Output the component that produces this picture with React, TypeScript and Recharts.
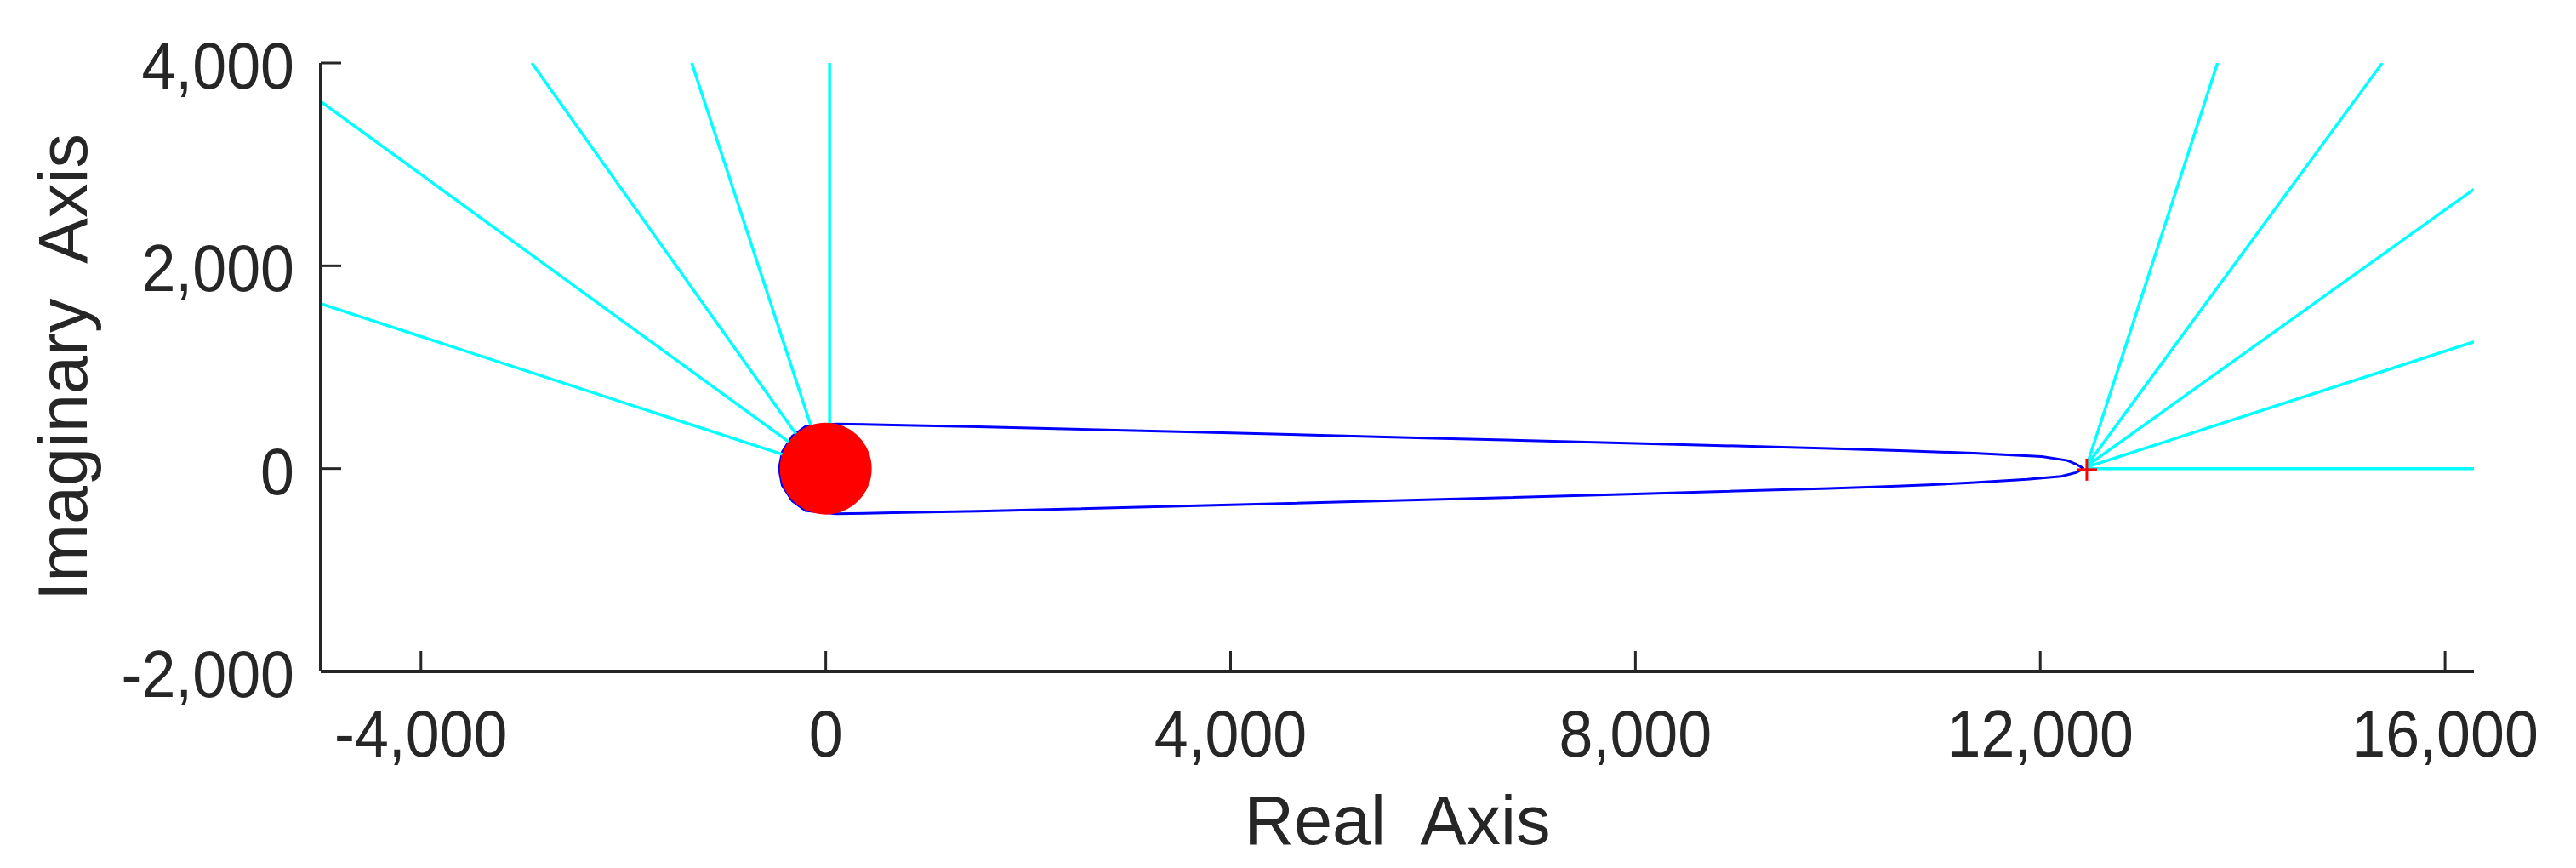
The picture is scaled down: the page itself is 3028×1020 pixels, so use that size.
import React from "react";
import { ComposedChart, Line, Scatter, XAxis, YAxis } from "recharts";

// axis setup
const xTicks = [-4000, 0, 4000, 8000, 12000, 16000];
const yTicks = [-2000, 0, 2000, 4000];
const xDomain = [-4990, 16285];
const yDomain = [-2000, 4000];

// blue branch above the real axis, left to right
const blueUpper = [
  [100, 440], [668, 430], [1500, 412], [4000, 352], [6000, 300], [8000, 249],
  [9914, 199], [10670, 176], [11343, 152], [12016, 118], [12268, 80], [12352, 45], [12430, 0],
];
// blue branch below the real axis, left to right
const blueLower = [
  [100, -445], [668, -436], [1500, -420], [4000, -358], [6000, -305], [8000, -250],
  [9914, -196], [10474, -176], [10895, -160], [11315, -140], [11870, -106], [12207, -76], [12352, -40], [12430, 0],
];
// blue part going round the pole cluster on the left
const blueArc = [
  [100, 440], [-200, 415], [-330, 320], [-430, 165], [-462, 0],
  [-430, -165], [-330, -320], [-200, -415], [100, -445],
];

// cyan branches to infinity
const leftRays = [
  [[-410, 134], [-4990, 1625]],
  [[-340, 246], [-4990, 3620]],
  [[-256, 288], [-2904, 4000]],
  [[-116, 330], [-1324, 4000]],
  [[38, 344], [38, 4000]],
];
const rightRays = [
  [[12460, 30], [13752, 4000]],
  [[12460, 30], [15380, 4000]],
  [[12460, 25], [16285, 2755]],
  [[12460, 15], [16285, 1250]],
  [[12470, 0], [16285, 0]],
];

// pole markers
const poleCluster = [{ x: 0, y: 0 }];
const poleRight = [{ x: 12460, y: -10 }];

const ink = "#262626";
const font = '"Liberation Sans", Arial, Helvetica, sans-serif';

const fmt = (v: number) => v.toLocaleString("en-US");
const toPts = (list: number[][]) => list.map(([x, y]) => ({ x, y }));

const blueLoop = toPts([...blueUpper.slice().reverse(), ...blueArc.slice(1, -1), ...blueLower]);
const rays = [...leftRays, ...rightRays].map((r) => toPts(r));

function XTick(props: any) {
  const { x, y, payload } = props;
  return (
    <g>
      <line x1={x} x2={x} y1={y} y2={y - 24} stroke={ink} strokeWidth={3} />
      <text
        transform={`translate(${x}, ${y + 100}) scale(0.92, 1)`}
        textAnchor="middle"
        fontSize={78}
        fontFamily={font}
        fill={ink}
      >
        {fmt(payload.value)}
      </text>
    </g>
  );
}

function YTick(props: any) {
  const { x, y, payload } = props;
  return (
    <g>
      <line x1={x} x2={x + 24} y1={y} y2={y} stroke={ink} strokeWidth={3} />
      <text
        transform={`translate(${x - 31}, ${y + 30}) scale(0.92, 1)`}
        textAnchor="end"
        fontSize={78}
        fontFamily={font}
        fill={ink}
      >
        {fmt(payload.value)}
      </text>
    </g>
  );
}

function XTitle(props: any) {
  const vb = props.viewBox || { x: 369, y: 781, width: 2531 };
  return (
    <text x={vb.x + vb.width / 2} y={vb.y + 203} textAnchor="middle" fontSize={81} fontFamily={font} fill={ink}>
      {"Real\u00a0 Axis"}
    </text>
  );
}

function YTitle(props: any) {
  const vb = props.viewBox || { x: 0, y: 66, height: 715 };
  const cx = 94;
  const cy = vb.y + vb.height / 2;
  return (
    <text x={cx} y={cy} transform={`rotate(-90, ${cx}, ${cy})`} textAnchor="middle" fontSize={81} fontFamily={font} fill={ink}>
      {"Imaginary\u00a0 Axis"}
    </text>
  );
}

const Disk = (p: any) => <circle cx={p.cx} cy={p.cy} r={54} fill="#ff0000" />;
const Plus = (p: any) => (
  <g stroke="#ff0000" strokeWidth={3}>
    <line x1={p.cx - 12} x2={p.cx + 12} y1={p.cy} y2={p.cy} />
    <line x1={p.cx} x2={p.cx} y1={p.cy - 13} y2={p.cy + 13} />
  </g>
);

export default function App() {
  return (
    <div style={{ width: 3020, height: 1012 }}>
      <ComposedChart width={3020} height={1012} margin={{ top: 66, right: 120, bottom: 0, left: 0 }}>
        <XAxis
          type="number"
          dataKey="x"
          domain={xDomain}
          allowDataOverflow
          ticks={xTicks}
          interval={0}
          height={231}
          tickSize={0}
          tickMargin={0}
          tickLine={false}
          axisLine={{ stroke: ink, strokeWidth: 4 }}
          tick={(p: any) => <XTick {...p} />}
          label={(p: any) => <XTitle {...p} />}
        />
        <YAxis
          type="number"
          dataKey="y"
          domain={yDomain}
          allowDataOverflow
          ticks={yTicks}
          interval={0}
          width={369}
          tickSize={0}
          tickMargin={0}
          tickLine={false}
          axisLine={{ stroke: ink, strokeWidth: 4 }}
          tick={(p: any) => <YTick {...p} />}
          label={(p: any) => <YTitle {...p} />}
        />
        <Line
          data={blueLoop}
          dataKey="y"
          type="linear"
          stroke="#0000ff"
          strokeWidth={3}
          dot={false}
          isAnimationActive={false}
        />
        <Scatter data={poleCluster} dataKey="y" shape={Disk} isAnimationActive={false} />
        {rays.map((r, i) => (
          <Line
            key={i}
            data={r}
            dataKey="y"
            type="linear"
            stroke="#00ffff"
            strokeWidth={3.5}
            dot={false}
            isAnimationActive={false}
          />
        ))}
        <Scatter data={poleRight} dataKey="y" shape={Plus} isAnimationActive={false} />
      </ComposedChart>
    </div>
  );
}
